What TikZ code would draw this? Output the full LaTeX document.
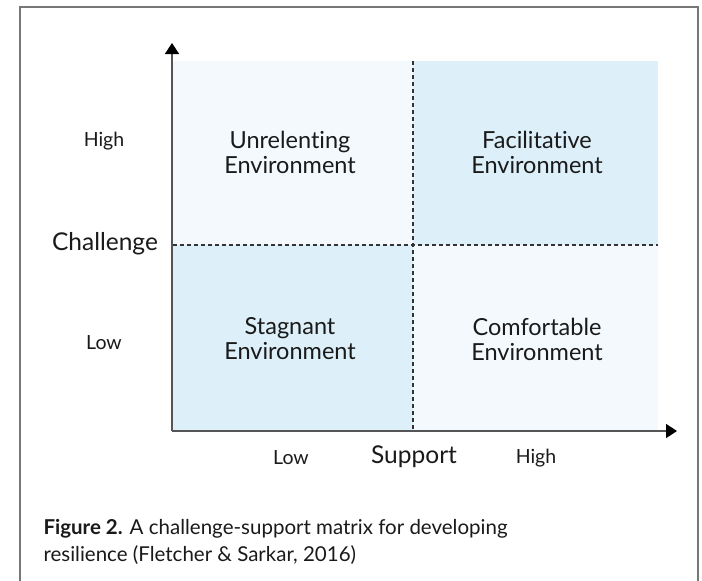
\documentclass[tikz,border=0pt]{standalone}
\usepackage{fontspec}
\setmainfont[Ligatures={NoCommon}]{Lato}
\usetikzlibrary{arrows.meta}
\definecolor{lightq}{HTML}{F3F9FD}
\definecolor{darkq}{HTML}{DDEFF9}
\definecolor{axisgray}{HTML}{555555}
\definecolor{framegray}{HTML}{777777}
\definecolor{txt}{HTML}{1A1A1A}
\begin{document}
\begin{tikzpicture}[x=1pt,y=-1pt,
  quad/.style={align=center,font=\fontsize{23.5}{25}\selectfont,text=txt},
  lvl/.style={font=\fontsize{19.5}{22}\selectfont,text=txt},
  axlabel/.style={font=\fontsize{24.5}{26}\selectfont,text=txt},
  axisline/.style={axisgray,line width=1.6pt,-{Triangle[width=14pt,length=11pt,color=black]}},
  divline/.style={black!80,line width=1.3pt,dash pattern=on 4pt off 3pt}]
\useasboundingbox (0,0) rectangle (702,581);
\fill[white] (0,0) rectangle (702,581);
% frame
\draw[framegray,line width=2pt] (20,600) -- (20,7) -- (698,7) -- (698,600);
% quadrants
\fill[lightq] (173,61) rectangle (413,245);
\fill[darkq] (413,61) rectangle (658,245);
\fill[darkq] (173,245) rectangle (413,431);
\fill[lightq] (413,245) rectangle (658,431);
% coordinates
\coordinate (origin) at (172,431);
\coordinate (ytip) at (172,43);
\coordinate (xtip) at (677,431);
\coordinate (vtop) at (413,61);
\coordinate (vbot) at (413,431);
\coordinate (hleft) at (173,245);
\coordinate (hright) at (658,245);
% dashed dividers
\draw[divline] (vtop) -- (vbot);
\draw[divline] (hleft) -- (hright);
% axes
\draw[axisline] (origin) -- (ytip);
\draw[axisline] (origin) -- (xtip);
% quadrant labels
\node[quad] (unrel) at (290,152) {Unrelenting\\Environment};
\node[quad] (facil) at (537,152) {Facilitative\\Environment};
\node[quad] (stag) at (290,339) {Stagnant\\Environment};
\node[quad] (comf) at (537,339) {Comfortable\\Environment};
% axis labels
\node[lvl] (yhigh) at (104,141) {High};
\node[lvl] (ylow) at (104,343) {Low};
\node[axlabel] (chal) at (105,244) {Challenge};
\node[lvl] (xlow) at (291,458) {Low};
\node[axlabel] (supp) at (414,457) {Support};
\node[lvl] (xhigh) at (536,458) {High};
% caption
\node[anchor=west,font=\fontsize{20.5}{27}\selectfont,text=txt,align=left] (cap) at (40,542)
  {\textbf{Figure 2.} A challenge-support matrix for developing\\resilience (Fletcher \& Sarkar, 2016)};
\end{tikzpicture}
\end{document}
